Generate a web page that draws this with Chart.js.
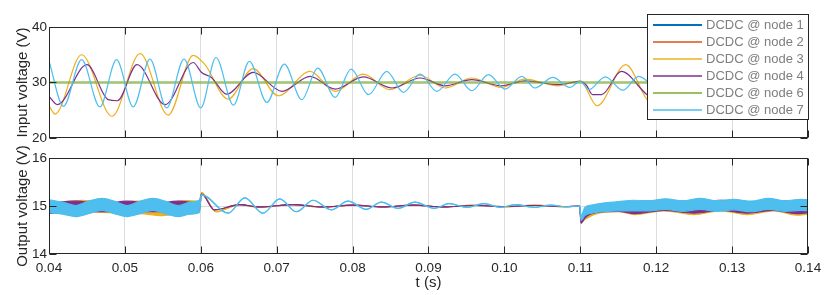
<!DOCTYPE html>
<html>
<head>
<meta charset="utf-8">
<script src="https://cdn.jsdelivr.net/npm/chart.js@4.4.1/dist/chart.umd.min.js"></script>
<style>
  html, body { margin: 0; padding: 0; background: #fff; }
  #wrap { position: relative; width: 830px; height: 295px; }
  #wrap canvas { position: absolute; left: 0; }
</style>
</head>
<body>
<div id="wrap">
  <canvas id="topChart" width="830" height="148" style="top:0"></canvas>
  <!-- transparent, overlaps the top one a bit so the long y title has room -->
  <canvas id="bottomChart" width="830" height="175" style="top:120px"></canvas>
</div>
<script>
// time axis (s)
const tMin = 0.04, tMax = 0.14, tStep = 0.01;

const seriesNames = ['DCDC @ node 1', 'DCDC @ node 2', 'DCDC @ node 3', 'DCDC @ node 4', 'DCDC @ node 6', 'DCDC @ node 7'];
const seriesColors = ['#0072BD', '#D95319', '#EDB120', '#7E2F8E', '#77AC30', '#4DBEEE'];

// ---- input voltage (V), peaks / troughs ----
// node 1 and node 2 sit right under node 7 and node 3, so only those are drawn
const inT7 = [0.0400,0.0419,0.0443,0.0467,0.0489,0.0511,0.0533,0.0555,0.0578,0.0600,0.0620,0.0643,0.0664,0.0687,0.0710,0.0733,0.0754,0.0777,0.0798,0.0821,0.0845,0.0867,0.0889,0.0911,0.0935,0.0957,0.0979,0.1001,0.1023,0.1040,0.1064,0.1086,0.1100,0.1111,0.1133,0.1156,0.1177,0.1200];
const inV7 = [33.9,25.7,34.1,25.6,34.1,25.6,34.2,25.4,34.2,25.4,34.5,25.9,33.8,26.4,33.3,26.9,32.6,27.3,32.4,27.8,32.0,28.2,31.5,28.4,31.5,28.5,31.4,28.8,31.1,29.0,30.9,29.1,30.2,28.7,31.0,28.6,31.1,28.7];

const inT3 = [0.0400,0.0408,0.0443,0.0483,0.0520,0.0557,0.0590,0.0605,0.0636,0.0669,0.0702,0.0744,0.0777,0.0814,0.0849,0.0889,0.0922,0.0957,0.0996,0.1027,0.1071,0.1100,0.1122,0.1160,0.1188,0.1200];
const inV3 = [25.8,24.3,35.0,23.9,35.2,24.1,34.9,33.3,27.0,32.5,27.6,32.0,28.4,31.5,28.7,31.3,29.0,30.8,29.1,30.6,29.4,30.3,25.8,33.2,26.9,25.9];

const inT4 = [0.0400,0.0411,0.0450,0.0478,0.0490,0.0516,0.0553,0.0590,0.0601,0.0614,0.0634,0.0669,0.0707,0.0744,0.0777,0.0814,0.0852,0.0889,0.0922,0.0957,0.0996,0.1027,0.1071,0.1100,0.1108,0.1116,0.1128,0.1154,0.1188,0.1200];
const inV4 = [27.5,26.0,33.2,26.9,26.7,33.2,26.0,33.6,31.8,30.9,27.9,31.8,28.4,31.1,28.8,31.0,29.0,30.8,29.4,30.5,29.4,30.3,29.6,30.2,29.5,27.8,27.8,32.0,27.8,27.0];

const inT6 = [0.04, 0.14];
const inV6 = [30, 30];

// ---- output voltage (V): upper / lower edge of the ripple band (equal where it is a thin line) ----
const outT7 = [0.0400,0.0418,0.0435,0.0452,0.0470,0.0486,0.0503,0.0520,0.0537,0.0553,0.0570,0.0586,0.0598,
  0.0601,0.0607,0.0636,0.0658,0.0682,0.0704,0.0726,0.0748,0.0772,0.0794,0.0818,0.0838,0.0860,0.0882,0.0908,0.0927,0.0951,0.0973,0.0995,0.1015,0.1039,0.1061,0.1083,0.1099,
  0.1101,0.1106,0.1115,0.1130,0.1150,0.1170,0.1190,0.1212,0.1235,0.1258,0.1280,0.1302,0.1325,0.1348,0.1370,0.1390,0.1400];
const outHi7 = [15.13,15.08,15.01,15.10,15.16,15.10,15.01,15.10,15.16,15.10,15.01,15.08,15.12,
  15.23,15.20,14.85,15.17,14.85,15.15,14.88,15.12,14.92,15.10,14.93,15.08,14.95,15.08,14.95,15.05,14.97,15.05,14.97,15.03,14.97,15.02,14.98,15.00,
  14.80,14.97,15.02,15.06,15.09,15.12,15.11,15.15,15.11,15.16,15.11,15.14,15.10,15.16,15.11,15.14,15.13];
const outLo7 = [14.86,14.83,14.78,14.84,14.91,14.84,14.78,14.84,14.91,14.84,14.78,14.83,14.86,
  15.23,15.20,14.85,15.17,14.85,15.15,14.88,15.12,14.92,15.10,14.93,15.08,14.95,15.08,14.95,15.05,14.97,15.05,14.97,15.03,14.97,15.02,14.98,15.00,
  14.70,14.80,14.85,14.88,14.90,14.90,14.90,14.93,14.89,14.93,14.89,14.92,14.88,14.93,14.89,14.91,14.90];

const outT4 = [0.0400,0.0435,0.0470,0.0503,0.0537,0.0570,0.0598,
  0.0601,0.0618,0.0651,0.0677,0.0721,0.0761,0.0800,0.0840,0.0880,0.0920,0.0960,0.1000,0.1040,0.1080,0.1099,
  0.1101,0.1106,0.1120,0.1150,0.1172,0.1210,0.1250,0.1285,0.1320,0.1355,0.1385,0.1400];
const outHi4 = [15.05,15.10,15.04,15.10,15.04,15.10,15.06,
  15.25,14.92,15.03,14.98,15.03,14.98,15.02,14.98,15.02,14.98,15.01,14.99,15.01,14.99,15.00,
  14.72,14.85,14.98,15.05,15.05,15.10,15.08,15.12,15.08,15.12,15.08,15.08];
const outLo4 = [14.84,14.90,14.88,14.90,14.88,14.90,14.88,
  15.25,14.92,15.03,14.98,15.03,14.98,15.02,14.98,15.02,14.98,15.01,14.99,15.01,14.99,15.00,
  14.64,14.75,14.86,14.89,14.84,14.91,14.85,14.91,14.85,14.91,14.84,14.86];

const outT3 = [0.0400,0.0445,0.0480,0.0515,0.0550,0.0580,0.0598,
  0.0601,0.0620,0.0651,0.0677,0.0721,0.0761,0.0800,0.0840,0.0880,0.0920,0.0960,0.1000,0.1040,0.1080,0.1099,
  0.1101,0.1106,0.1120,0.1150,0.1172,0.1210,0.1250,0.1285,0.1320,0.1355,0.1385,0.1400];
const outHi3 = [15.06,15.12,15.05,15.10,15.05,15.11,15.10,
  15.28,14.88,15.03,14.97,15.03,14.97,15.02,14.98,15.02,14.98,15.02,14.98,15.02,14.98,15.00,
  14.74,14.85,14.97,15.04,15.04,15.10,15.06,15.12,15.06,15.12,15.06,15.06];
const outLo3 = [14.86,14.88,14.86,14.85,14.80,14.86,14.88,
  15.28,14.88,15.03,14.97,15.03,14.97,15.02,14.98,15.02,14.98,15.02,14.98,15.02,14.98,15.00,
  14.66,14.72,14.83,14.88,14.82,14.90,14.82,14.90,14.82,14.90,14.81,14.83];

const inTicks = [20, 30, 40];
const outTicks = [14, 15, 16];

// ---------------------------------------------------------------
const FONT = "'Liberation Sans', Arial, Helvetica, sans-serif";
Chart.defaults.font.family = FONT;
Chart.defaults.color = '#262626';
Chart.defaults.elements.point.radius = 0;
Chart.defaults.elements.line.cubicInterpolationMode = 'monotone';

const xy = (ts, vs) => ts.map((t, i) => ({ x: t, y: vs[i] }));

function gridColor(c) {
  const s = c.scale;
  if (!c.tick) return 'rgba(0,0,0,0)';
  if (Math.abs(c.tick.value - s.min) < 1e-9 || Math.abs(c.tick.value - s.max) < 1e-9) return 'rgba(0,0,0,0)';
  return '#dcdcdc';
}

// box round the axes and the inward tick marks, matlab style
const framePlugin = {
  id: 'frame',
  afterDatasetsDraw(chart) {
    const { ctx, chartArea: a, scales: { x, y } } = chart;
    const L = Math.round(a.left) + 0.5, R = Math.round(a.right) - 0.5;
    const T = Math.round(a.top) + 0.5, B = Math.round(a.bottom) - 0.5;
    ctx.save();
    ctx.strokeStyle = '#262626';
    ctx.lineWidth = 1;
    ctx.beginPath();
    x.ticks.forEach(t => {
      const px = Math.round(x.getPixelForValue(t.value)) + 0.5;
      ctx.moveTo(px, B); ctx.lineTo(px, B - 7);
      ctx.moveTo(px, T); ctx.lineTo(px, T + 7);
    });
    y.ticks.forEach(t => {
      const py = Math.round(y.getPixelForValue(t.value)) + 0.5;
      ctx.moveTo(L, py); ctx.lineTo(L + 7, py);
      ctx.moveTo(R, py); ctx.lineTo(R - 7, py);
    });
    ctx.stroke();
    ctx.strokeRect(L, T, R - L, B - T);
    ctx.restore();
  }
};

// legend box sitting over the top right of the input plot
const legendPlugin = {
  id: 'boxLegend',
  afterDraw(chart) {
    const ctx = chart.ctx;
    ctx.save();
    ctx.fillStyle = '#fff';
    ctx.fillRect(647.5, 14.5, 161, 105);
    ctx.strokeStyle = '#262626';
    ctx.lineWidth = 1;
    ctx.strokeRect(647.5, 14.5, 161, 105);
    ctx.font = '13px ' + FONT;
    ctx.textBaseline = 'middle';
    seriesNames.forEach((name, i) => {
      const cy = 25 + i * 17;
      ctx.strokeStyle = seriesColors[i];
      ctx.lineWidth = i === 0 ? 2 : 1.5;
      ctx.beginPath();
      ctx.moveTo(653, cy);
      ctx.lineTo(702, cy);
      ctx.stroke();
      ctx.fillStyle = '#7f7f7f';
      ctx.fillText(name, 706, cy + 0.5);
    });
    ctx.restore();
  }
};

function xScale(showLabels) {
  return {
    type: 'linear', min: tMin, max: tMax,
    ticks: {
      display: showLabels, stepSize: tStep, padding: 6,
      font: { size: 13.5 }, maxRotation: 0,
      callback: v => v.toFixed(2)
    },
    grid: { color: gridColor, drawTicks: false },
    border: { display: false },
    title: { display: showLabels, text: 't (s)', font: { size: 15 }, padding: { top: 0, bottom: 3 } },
    afterFit: s => { s.height = showLabels ? 41 : 0; }
  };
}

function yScale(min, max, ticks, title) {
  return {
    min, max,
    afterBuildTicks: s => { s.ticks = ticks.map(v => ({ value: v })); },
    ticks: { padding: 2, font: { size: 13.5 } },
    grid: { color: gridColor, drawTicks: false },
    border: { display: false },
    title: { display: true, text: title, font: { size: 15 }, padding: { top: 13.5, bottom: 0 } },
    afterFit: s => { s.width = 49; }
  };
}

const baseOptions = {
  responsive: false,
  animation: false,
  devicePixelRatio: 1,
  events: [],
  plugins: { legend: { display: false }, tooltip: { enabled: false } }
};

// top: input voltage
new Chart(document.getElementById('topChart'), {
  type: 'line',
  data: {
    datasets: [
      { data: xy(inT7, inV7), borderColor: seriesColors[5], borderWidth: 1.2, order: 0 },
      { data: xy(inT6, inV6), borderColor: 'rgba(119,172,48,0.55)', borderWidth: 3, order: 1 },
      { data: xy(inT4, inV4), borderColor: seriesColors[3], borderWidth: 1.2, order: 2 },
      { data: xy(inT3, inV3), borderColor: seriesColors[2], borderWidth: 1.2, order: 3 }
    ]
  },
  options: {
    ...baseOptions,
    layout: { padding: { left: 0, top: 27, right: 22, bottom: 10 } },
    scales: { x: xScale(false), y: yScale(20, 40, inTicks, 'Input voltage (V)') }
  },
  plugins: [framePlugin, legendPlugin]
});

// bottom: output voltage, each node is an upper edge plus a lower edge filled up to it
function band(ts, hi, lo, color, order) {
  return [
    { data: xy(ts, hi), borderColor: color, borderWidth: 1.2, fill: false, order },
    { data: xy(ts, lo), borderColor: color, borderWidth: 1.2, backgroundColor: color, fill: '-1', order }
  ];
}

new Chart(document.getElementById('bottomChart'), {
  type: 'line',
  data: {
    datasets: [
      ...band(outT3, outHi3, outLo3, seriesColors[2], 3),
      ...band(outT4, outHi4, outLo4, seriesColors[3], 2),
      ...band(outT7, outHi7, outLo7, seriesColors[5], 0)
    ]
  },
  options: {
    ...baseOptions,
    layout: { padding: { left: 0, top: 38, right: 22, bottom: 0 } },
    scales: { x: xScale(true), y: yScale(14, 16, outTicks, 'Output voltage (V)') }
  },
  plugins: [framePlugin]
});
</script>
</body>
</html>
